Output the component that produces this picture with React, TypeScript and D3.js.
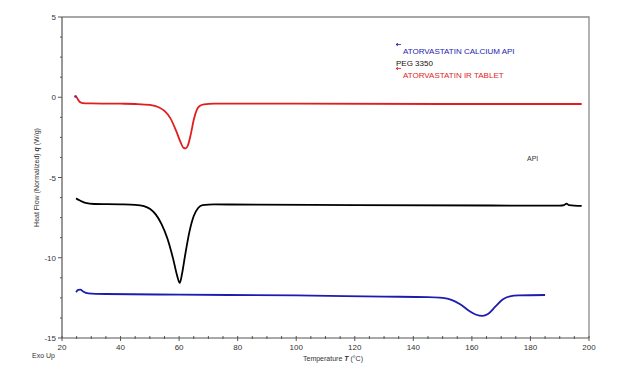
import React from "react";
import * as d3 from "d3";

// Reference curves (temperature °C, heat flow W/g)
const tabletT = [24.5, 25, 25.5, 26, 27, 30, 40, 45, 50, 53, 55, 57, 59, 60.5, 61.5, 62.3, 63, 64, 65, 66, 67, 68.5, 72, 100, 150, 197.5];
const tabletQ = [0.1, 0.0, -0.15, -0.28, -0.36, -0.38, -0.4, -0.42, -0.48, -0.62, -0.85, -1.3, -2.1, -2.8, -3.15, -3.18, -3.0, -2.3, -1.4, -0.8, -0.55, -0.45, -0.4, -0.4, -0.42, -0.42];

const pegT = [24.8, 26, 28, 31, 40, 45, 48, 50, 52, 54, 56, 58, 59.3, 60.2, 61, 62, 63.5, 65, 66.5, 68, 72, 120, 190, 191.5, 192.3, 193.2, 197.5];
const pegQ = [-6.3, -6.42, -6.58, -6.65, -6.67, -6.7, -6.78, -6.95, -7.3, -7.9, -8.8, -10.1, -11.1, -11.57, -11.0, -9.9, -8.4, -7.4, -6.9, -6.72, -6.68, -6.72, -6.75, -6.72, -6.63, -6.72, -6.77];

const apiT = [24.8, 25.5, 26.3, 27.2, 29, 35, 60, 100, 130, 145, 150, 153, 156, 159, 161.5, 163.6, 165.5, 168, 170.5, 173, 176, 185];
const apiQ = [-12.15, -12.0, -11.98, -12.1, -12.22, -12.26, -12.3, -12.35, -12.42, -12.45, -12.5, -12.62, -12.9, -13.3, -13.55, -13.62, -13.5, -13.05, -12.6, -12.4, -12.35, -12.32];

const xTicks = [20, 40, 60, 80, 100, 120, 140, 160, 180, 200];
const yTicks = [5, 0, -5, -10, -15];

const W = 624;
const H = 385;
const font = "Liberation Sans, Arial, sans-serif";

export default function App() {
  const x = d3.scaleLinear().domain([20, 200]).range([62, 589]);
  const y = d3.scaleLinear().domain([-15, 5]).range([338, 17]);

  const line = d3
    .line<[number, number]>()
    .x((d) => x(d[0]))
    .y((d) => y(d[1]))
    .curve(d3.curveMonotoneX);

  const series = [
    { T: apiT, Q: apiQ, color: "#1c1cb0" },
    { T: pegT, Q: pegQ, color: "#000000" },
    { T: tabletT, Q: tabletQ, color: "#e01e1e" },
  ];

  const xMinor = d3.range(20, 201, 5).filter((v) => v % 20 !== 0);
  const yMinor = d3.range(-15, 5.01, 1.25).filter((v) => Math.abs(v % 5) > 0.01);

  return (
    <svg width={W} height={H} style={{ position: "absolute", left: 0, top: 0, background: "#fff" }}>
      {/* frame */}
      <path d={`M${x(20)},${y(5)}H${x(200)}V${y(-15)}`} fill="none" stroke="#8a8a8a" strokeWidth={1.3} />
      <line x1={x(20)} x2={x(20)} y1={y(5)} y2={y(-15)} stroke="#555" strokeWidth={1.2} />
      <line x1={x(20)} x2={x(200)} y1={y(-15)} y2={y(-15)} stroke="#555" strokeWidth={1.2} />

      {/* y ticks */}
      {yTicks.map((v) => (
        <g key={"y" + v}>
          <line x1={x(20) - 4} x2={x(20)} y1={y(v)} y2={y(v)} stroke="#555" />
          <text x={x(20) - 6} y={y(v) + 3} fontSize={8} textAnchor="end" fill="#333" fontFamily={font}>
            {v}
          </text>
        </g>
      ))}
      {yMinor.map((v) => (
        <line key={"ym" + v} x1={x(20) - 2} x2={x(20)} y1={y(v)} y2={y(v)} stroke="#555" />
      ))}

      {/* x ticks */}
      {xTicks.map((v) => (
        <g key={"x" + v}>
          <line x1={x(v)} x2={x(v)} y1={y(-15) - 2} y2={y(-15) + 3} stroke="#555" />
          <text x={x(v)} y={y(-15) + 12} fontSize={8} textAnchor="middle" fill="#333" fontFamily={font}>
            {v}
          </text>
        </g>
      ))}
      {xMinor.map((v) => (
        <line key={"xm" + v} x1={x(v)} x2={x(v)} y1={y(-15) - 2} y2={y(-15) + 1} stroke="#555" />
      ))}

      {/* axis titles */}
      <text x={333} y={361} fontSize={7} textAnchor="middle" fill="#333" fontFamily={font}>
        Temperature <tspan fontStyle="italic" fontWeight="bold">T</tspan> (°C)
      </text>
      <text
        transform={`translate(39,${y(-5)}) rotate(-90)`}
        fontSize={7}
        textAnchor="middle"
        fill="#333"
        fontFamily={font}
      >
        Heat Flow (Normalized) <tspan fontStyle="italic" fontWeight="bold">q</tspan> (W/g)
      </text>
      <text x={32} y={358} fontSize={7} fill="#333" fontFamily={font}>
        Exo Up
      </text>

      {/* curves */}
      {series.map((s, i) => (
        <path
          key={i}
          d={line(s.T.map((t, j) => [t, s.Q[j]] as [number, number])) || ""}
          fill="none"
          stroke={s.color}
          strokeWidth={1.8}
        />
      ))}
      <circle cx={x(24.6)} cy={y(0.05)} r={1.3} fill="#7a2a8a" />

      {/* legend */}
      <path d="M396,44.5H401 M396,44.5l2,-1.3 M396,44.5l2,1.3" stroke="#1c1cb0" strokeWidth={0.8} fill="none" />
      <text x={403} y={54} fontSize={8} fill="#1c1cb0" fontFamily={font}>
        ATORVASTATIN CALCIUM API
      </text>
      <text x={396} y={66} fontSize={8} fill="#111" fontFamily={font}>
        PEG 3350
      </text>
      <path d="M396,68.5H401 M396,68.5l2,-1.3 M396,68.5l2,1.3" stroke="#e01e1e" strokeWidth={0.8} fill="none" />
      <text x={403} y={78} fontSize={8} fill="#e01e1e" fontFamily={font}>
        ATORVASTATIN IR TABLET
      </text>
      <text x={527} y={161} fontSize={7} fill="#333" fontFamily={font}>
        API
      </text>
    </svg>
  );
}
